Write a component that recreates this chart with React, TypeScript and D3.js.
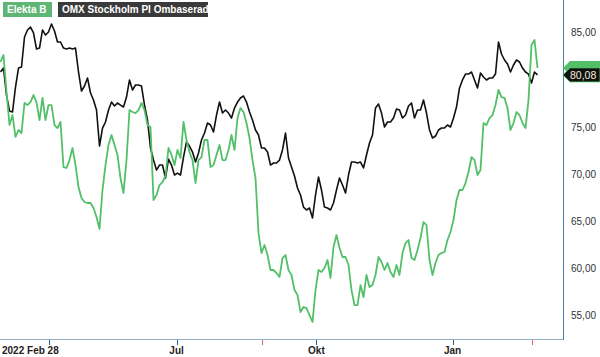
import React from "react";
import * as d3 from "d3";

// Elekta B (green), one every ~1.4 trading days
const elekta: number[] = [
  81.45, 82.19, 78.26, 74.76, 75.82, 73.49, 74.23, 73.91, 77.1, 76.88,
  77.2, 77.94, 77.2, 75.29, 77.63, 75.29, 76.88, 76.88, 74.76, 74.44,
  75.08, 70.3, 70.2, 71.04, 72.32, 70.51, 68.18, 67.01, 66.59, 66.48,
  66.48, 65.95, 64.99, 63.72, 67.86, 70.51, 72.64, 73.7, 72.64, 71.58,
  69.13, 67.54, 71.04, 76.35, 76.14, 76.03, 76.35, 77.1, 76.35, 74.76,
  74.55, 66.8, 67.33, 68.39, 68.71, 69.35, 72.32, 71.58, 70.51, 72.11,
  71.26, 75.08, 73.17, 71.89, 71.04, 68.6, 71.04, 71.36, 73.17, 73.17,
  70.3, 70.51, 71.58, 72.64, 71.04, 71.04, 72.11, 73.7, 72.11, 75.5,
  76.56, 76.14, 74.97, 73.38, 71.04, 69.13, 63.29, 61.17, 62.02, 60.96,
  59.37, 59.37, 59.05, 58.62, 60.64, 60.96, 59.37, 58.84, 57.24, 56.71,
  54.91, 55.44, 55.33, 54.59, 53.85, 57.24, 59.37, 59.16, 59.58, 60.43,
  58.52, 61.81, 63.08, 61.7, 60.75, 60.75, 59.9, 57.24, 55.65, 55.65,
  57.77, 56.5, 58.84, 57.56, 57.77, 58.84, 60.75, 60.22, 59.37, 60.11,
  59.16, 58.62, 59.9, 58.84, 61.17, 62.23, 62.55, 60.64, 60.43, 61.49,
  62.76, 64.46, 64.14, 60.43, 58.84, 60.11, 60.96, 61.17, 61.28, 62.55,
  63.4, 64.67, 66.8, 67.86, 67.86, 68.6, 69.77, 71.36, 71.04, 69.45,
  69.98, 74.97, 74.76, 75.5, 75.82, 76.88, 78.48, 77.73, 77.63, 76.56,
  74.23, 74.97, 76.14, 75.82, 74.97, 74.44, 77.41, 83.25, 83.78, 80.81,
];

// OMX Stockholm PI, rebased (black)
const omx: number[] = [
  80.39, 80.81, 77.94, 76.25, 76.14, 78.79, 80.81, 80.92, 84.1, 84.85,
  85.16, 84.53, 82.83, 82.93, 84.85, 84.31, 84.63, 85.48, 84.74, 83.57,
  83.57, 82.93, 82.83, 82.93, 82.83, 82.93, 80.39, 78.37, 78.9, 79.75,
  78.16, 77.41, 76.35, 72.53, 74.44, 75.08, 76.35, 77.2, 76.78, 77.1,
  76.88, 76.67, 77.73, 79.54, 78.48, 79.01, 79.01, 78.9, 76.88, 75.29,
  72.32, 71.04, 69.98, 70.51, 70.51, 69.13, 71.15, 70.51, 69.45, 69.66,
  69.45, 71.36, 72.96, 72.53, 71.89, 70.83, 71.79, 73.17, 73.91, 74.97,
  74.76, 74.02, 75.82, 77.2, 76.03, 76.35, 76.03, 75.5, 76.56, 77.2,
  77.63, 77.84, 77.2, 76.14, 75.29, 74.23, 73.7, 72.32, 72.32, 71.89,
  70.51, 70.73, 70.73, 71.04, 72.11, 73.91, 71.26, 70.3, 69.35, 68.07,
  67.33, 66.05, 65.74, 65.95, 64.89, 67.33, 69.24, 67.86, 66.05, 65.95,
  65.74, 66.48, 67.86, 69.13, 68.39, 67.54, 69.45, 70.83, 70.83, 70.73,
  70.83, 70.2, 71.58, 72.85, 73.7, 76.56, 76.99, 76.03, 74.55, 75.08,
  75.08, 75.5, 76.46, 76.35, 75.5, 75.82, 76.78, 77.1, 75.5, 76.35,
  76.35, 77.41, 76.03, 74.23, 73.38, 73.59, 74.23, 74.44, 74.44, 74.76,
  74.55, 75.5, 76.67, 78.69, 79.54, 80.17, 80.17, 80.39, 79.54, 78.69,
  80.28, 79.86, 79.54, 79.75, 79.75, 80.17, 83.57, 82.3, 81.66, 81.24,
  80.39, 81.13, 81.66, 81.45, 80.81, 80.39, 80.17, 79.22, 80.39, 80.08,
];

const seriesNames = ["Elekta B", "OMX Stockholm PI Ombaserad"];
const yTicks = [55, 60, 65, 70, 75, 80, 85];
const xTickPos = [16.3, 58.7, 105.3, 150.7];
const xTickLabels = ["2022 Feb 28", "Jul", "Okt", "Jan"];
const eventPos = [87.3, 177.3];
const lastLabel = "80,08";

const W = 600;
const H = 357;
const plotRight = 563;
const plotBottom = 340;
const GREEN = "#52c068";
const FONT = "'Liberation Sans', Arial, sans-serif";

export default function App() {
  const n = elekta.length;
  const x = d3.scaleLinear().domain([0, n - 1]).range([0.5, 537.5]);
  const y = d3.scaleLinear().domain([51.94, 88.03]).range([plotBottom, 0]);
  const line = d3
    .line<number>()
    .x((_, i) => x(i))
    .y((d) => y(d));

  const fmt = (v: number) => v.toFixed(2).replace(".", ",");
  const badge = (yy: number) =>
    `M${plotRight},${yy} L${plotRight + 7},${yy - 7} L${W},${yy - 7} L${W},${yy + 7} L${plotRight + 7},${yy + 7} Z`;

  const yGreenEnd = y(elekta[n - 1]);
  const yBlackEnd = y(omx[omx.length - 1]);
  const visibleTicks = yTicks.filter((t) => Math.abs(y(t) + 4 - yBlackEnd) > 12);

  return (
    <svg
      width={W}
      height={H}
      style={{ position: "absolute", left: 0, top: 0, background: "#fff" }}
      fontFamily={FONT}
    >
      <path d={line(omx) || ""} fill="none" stroke="#111" strokeWidth={1.6} strokeLinejoin="round" />
      <path d={line(elekta) || ""} fill="none" stroke={GREEN} strokeWidth={1.8} strokeLinejoin="round" />

      {/* axes */}
      <line x1={0} x2={plotRight} y1={plotBottom - 0.5} y2={plotBottom - 0.5} stroke="#8fb1c8" strokeWidth={1} />
      <line x1={plotRight + 0.5} x2={plotRight + 0.5} y1={0} y2={plotBottom} stroke="#4d7fa3" strokeWidth={1} />

      {xTickPos.map((p, i) => (
        <g key={i}>
          <line x1={Math.round(x(p)) + 0.5} x2={Math.round(x(p)) + 0.5} y1={plotBottom} y2={plotBottom + 5} stroke="#2f5f86" />
          <text
            x={i === 0 ? 2 : x(p)}
            y={354}
            textAnchor={i === 0 ? "start" : "middle"}
            fontSize={10}
            fontWeight="bold"
            fill="#222"
          >
            {xTickLabels[i]}
          </text>
        </g>
      ))}
      {eventPos.map((p, i) => (
        <line key={i} x1={Math.round(x(p)) + 0.5} x2={Math.round(x(p)) + 0.5} y1={plotBottom} y2={plotBottom + 5} stroke="#f06070" strokeWidth={1} />
      ))}

      {visibleTicks.map((t) => (
        <text key={t} x={571} y={y(t) + 7.8} fontSize={10} fill="#333">
          {fmt(t)}
        </text>
      ))}

      {/* last value badges */}
      <path d={badge(yGreenEnd)} fill={GREEN} />
      <path d={badge(yBlackEnd)} fill="#111" stroke={GREEN} strokeWidth={0.8} />
      <text x={570} y={yBlackEnd + 3.8} fontSize={10.5} fill="#f4ecd8">
        {lastLabel}
      </text>

      {/* legend */}
      <rect x={3} y={2} width={49} height={15} fill="#5fb573" />
      <text x={7} y={13.3} fontSize={10} fontWeight="bold" fill="#fff">
        {seriesNames[0]}
      </text>
      <rect x={58} y={2} width={150} height={15} fill="#3a3a3a" />
      <text x={62} y={13.3} fontSize={10} fontWeight="bold" fill="#fff">
        {seriesNames[1]}
      </text>
    </svg>
  );
}
